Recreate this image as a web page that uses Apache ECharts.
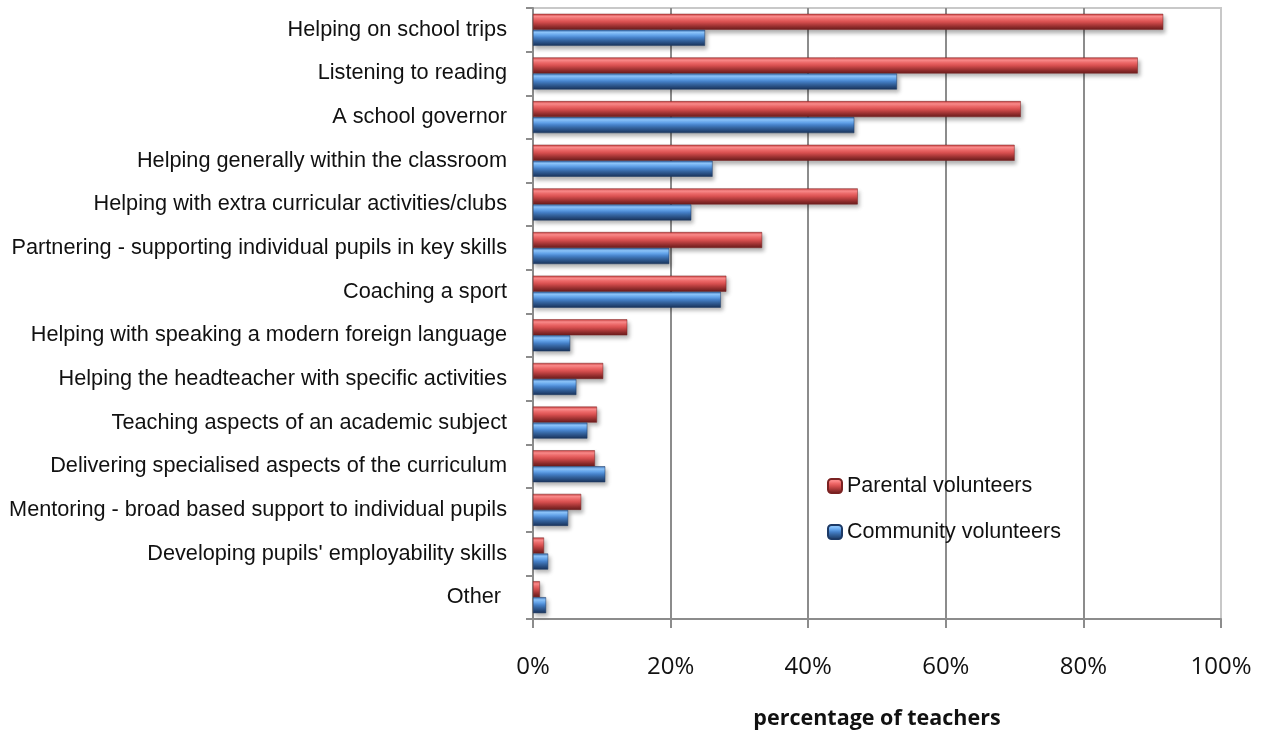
<!DOCTYPE html>
<html>
<head>
<meta charset="utf-8">
<script src="https://cdn.jsdelivr.net/npm/echarts@6/dist/echarts.min.js"></script>
<style>
  html, body { margin: 0; padding: 0; background: #fff; }
  #chart { width: 1266px; height: 736px; }
</style>
</head>
<body>
<div id="chart"></div>
<script>
// categories, top to bottom
var categories = [
    'Helping on school trips',
    'Listening to reading',
    'A school governor',
    'Helping generally within the classroom',
    'Helping with extra curricular activities/clubs',
    'Partnering - supporting individual pupils in key skills',
    'Coaching a sport',
    'Helping with speaking a modern foreign language',
    'Helping the headteacher with specific activities',
    'Teaching aspects of an academic subject',
    'Delivering specialised aspects of the curriculum',
    'Mentoring - broad based support to individual pupils',
    "Developing pupils' employability skills",
    'Other '
];
// percentage of teachers
var parental  = [91.6, 87.9, 70.9, 70.0, 47.2, 33.3, 28.1, 13.7, 10.2, 9.3, 9.0, 7.0, 1.6, 1.0];
var community = [25.0, 52.9, 46.7, 26.1, 23.0, 19.8, 27.3, 5.4, 6.3, 7.9, 10.5, 5.1, 2.2, 1.9];
var xTicks = [0, 20, 40, 60, 80, 100];

function bevel(stops) {          // vertical gradient to fake the 3D bevel look
    return new echarts.graphic.LinearGradient(0, 0, 0, 1, stops.map(function (c, i) {
        return { offset: i / (stops.length - 1), color: c };
    }));
}
var redFill  = bevel(['#c94040', '#ff8e8e', '#f06a6a', '#d85050', '#b23c3c', '#8a2a2a', '#6a1c1c']);
var blueFill = bevel(['#3a6cae', '#8fc8ff', '#66a7ee', '#4580c8', '#35649f', '#264a7c', '#1a3358']);

var chart = echarts.init(document.getElementById('chart'));
var option = {
    backgroundColor: '#fff',
    animation: false,
    grid: {
        left: 533, right: 45, top: 8, bottom: 117,
        outerBoundsMode: 'none',
        show: true, borderColor: '#c8c8c8', borderWidth: 2
    },
    legend: {
        orient: 'vertical',
        left: 822, top: 470,
        itemWidth: 14, itemHeight: 14,
        itemGap: 24,
        textStyle: { fontFamily: 'Liberation Sans, Arial', fontSize: 21.5, color: '#111', lineHeight: 21 },
        data: [
            { name: 'Parental volunteers', itemStyle: { color: redFill } },
            { name: 'Community volunteers', itemStyle: { color: blueFill } }
        ]
    },
    xAxis: {
        type: 'value',
        min: 0, max: 100, interval: 20,
        name: 'percentage of teachers',
        nameLocation: 'middle',
        nameGap: 89,
        nameTextStyle: { fontFamily: 'Open Sans', fontWeight: 'bold', fontSize: 21.5, color: '#111' },
        axisLine: { show: true, lineStyle: { color: '#8c8c8c', width: 2 } },
        axisTick: { show: true, length: 9, lineStyle: { color: '#8c8c8c', width: 2 } },
        axisLabel: {
            margin: 36,
            fontFamily: 'Open Sans', fontSize: 24, color: '#111',
            formatter: function (v) { return xTicks.indexOf(v) >= 0 ? v + '%' : ''; }
        },
        splitLine: { show: true, lineStyle: { color: ['#8c8c8c', '#8c8c8c', '#8c8c8c', '#8c8c8c', '#8c8c8c', '#c8c8c8'], width: 2 } }
    },
    yAxis: {
        type: 'category',
        inverse: true,
        data: categories,
        axisLine: { show: true, lineStyle: { color: '#8c8c8c', width: 2 } },
        axisTick: { show: true, length: 7, lineStyle: { color: '#8c8c8c', width: 2 } },
        axisLabel: {
            margin: 26,
            padding: [2, 0, 0, 0],
            fontFamily: 'Liberation Sans, Arial', fontSize: 21.7, color: '#111'
        }
    },
    series: [
        {
            name: 'Parental volunteers',
            type: 'bar',
            data: parental,
            barWidth: 16,
            barGap: '0%',
            itemStyle: {
                color: redFill,
                borderColor: '#7a2222', borderWidth: 0.5,
                shadowColor: 'rgba(0,0,0,0.3)', shadowBlur: 4, shadowOffsetX: 2, shadowOffsetY: 3
            }
        },
        {
            name: 'Community volunteers',
            type: 'bar',
            data: community,
            barWidth: 16,
            barGap: '0%',
            itemStyle: {
                color: blueFill,
                borderColor: '#1d3a66', borderWidth: 0.5,
                shadowColor: 'rgba(0,0,0,0.3)', shadowBlur: 4, shadowOffsetX: 2, shadowOffsetY: 3
            }
        }
    ]
};

chart.setOption(option);
</script>
</body>
</html>
